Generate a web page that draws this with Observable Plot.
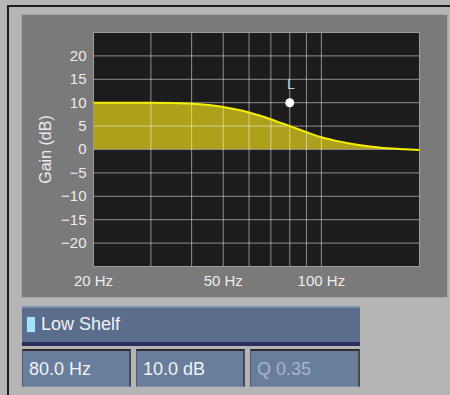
<!DOCTYPE html>
<html>
<head>
<meta charset="utf-8">
<script src="https://cdn.jsdelivr.net/npm/d3@7"></script>
<script src="https://cdn.jsdelivr.net/npm/@observablehq/plot@0.6"></script>
<style>
  html, body { margin: 0; padding: 0; }
  body { width: 450px; height: 395px; background: #b5b5b5; position: relative; overflow: hidden;
         font-family: "Liberation Sans", Arial, sans-serif; }
  .bl { position: absolute; left: 7px; top: 5px; width: 2px; height: 390px; background: #1e1e1e; }
  .bt { position: absolute; left: 7px; top: 5px; width: 443px; height: 2px; background: #1e1e1e; }
  #panel { position: absolute; left: 22px; top: 15px; width: 425px; height: 282px; background: #7a7a7a;
           box-shadow: 0 0 0 1px #a6a6a6; }
  #panel svg { display: block; }
  .bar { position: absolute; left: 22px; top: 306px; width: 338px; height: 34px; background: #5a6d8d;
         border-top: 2px solid #7d91b0; border-bottom: 4px solid #2c2d5e; box-sizing: content-box; }
  .led { position: absolute; left: 4px; top: 8px; width: 8px; height: 15px; background: #a6e2fb;
         border: 1px solid #5a7894; }
  .bar span { position: absolute; left: 19px; top: 6px; font-size: 18px; color: #f2f2f2; line-height: 20px; }
  .box { position: absolute; top: 349px; height: 35px; background: #687e9c;
         border-top: 2px solid #2a2a2a; border-left: 1px solid #4e5a6a; border-right: 2px solid #4a4a4a;
         border-bottom: 1px solid #8090a6; }
  .box span { position: absolute; left: 6px; top: 8px; font-size: 18px; line-height: 20px; color: #f2f2f2; }
  .box span.dim { color: #a9b4c4; }
</style>
</head>
<body>
<div class="bl"></div>
<div class="bt"></div>
<div id="panel"></div>
<div class="bar"><div class="led"></div><span id="bandName"></span></div>
<div class="box" style="left:22px;width:106px"><span id="p0"></span></div>
<div class="box" style="left:136px;width:106px"><span id="p1"></span></div>
<div class="box" style="left:250px;width:107px"><span id="p2" class="dim"></span></div>
<script>
// Frequency response curve (Hz, dB)
const freq = [20, 25, 30, 35, 40, 45, 50, 55, 60, 65, 70, 75, 80, 90, 100, 110, 122, 137, 150, 165, 180, 200];
const gain = [10, 10, 10, 9.95, 9.8, 9.5, 9.1, 8.55, 7.9, 7.2, 6.45, 5.7, 5.0, 3.7, 2.6, 1.9, 1.3, 0.75, 0.45, 0.2, 0.05, -0.1];

// Axis ticks / grid
const yTicks = [-20, -15, -10, -5, 0, 5, 10, 15, 20];
const xGrid = [20, 30, 40, 50, 60, 70, 80, 90, 100];
const xLabels = [20, 50, 100];

// Band handle and settings
const handleFreq = [80];
const handleGain = [10];
const handleLabel = ["L"];
const bandName = "Low Shelf";
const params = ["80.0 Hz", "10.0 dB", "Q 0.35"];

const curve = freq.map((f, i) => ({f, g: gain[i]}));
const handle = handleFreq.map((f, i) => ({f, g: handleGain[i], t: handleLabel[i]}));

const chart = Plot.plot({
  width: 425,
  height: 282,
  marginLeft: 71,
  marginRight: 28,
  marginTop: 17,
  marginBottom: 31,
  x: {type: "log", domain: [20, 200]},
  y: {domain: [-25, 25]},
  style: {background: "transparent", fontFamily: "'Liberation Sans', Arial, sans-serif", fontSize: "15px", color: "#ececec"},
  marks: [
    Plot.frame({fill: "#1c1c1c"}),
    Plot.areaY(curve, {x: "f", y1: 0, y2: "g", fill: "#ada11c", curve: "monotone-x"}),
    Plot.ruleX(xGrid, {stroke: "#ffffff", strokeOpacity: 0.5}),
    Plot.ruleY(yTicks, {stroke: "#ffffff", strokeOpacity: 0.5}),
    Plot.line(curve, {x: "f", y: "g", stroke: "#f4ef00", strokeWidth: 2, curve: "monotone-x"}),
    Plot.frame({stroke: "#9c9c9c"}),
    Plot.axisY({ticks: yTicks, tickSize: 0, tickPadding: 7, label: null, fontSize: 15}),
    Plot.axisX({ticks: xLabels, tickSize: 0, tickPadding: 9, label: null, fontSize: 15, tickFormat: d => `${d} Hz`}),
    Plot.text(["Gain (dB)"], {frameAnchor: "left", rotate: -90, dx: -48, textAnchor: "middle", fontSize: 16, fill: "#ececec"}),
    Plot.dot(handle, {x: "f", y: "g", r: 4.5, fill: "#ffffff", stroke: "none"}),
    Plot.text(handle, {x: "f", y: "g", text: "t", dy: -18, dx: 1, fontSize: 14, fill: "#d0d0d0"})
  ]
});
document.getElementById("panel").appendChild(chart);
document.getElementById("bandName").textContent = bandName;
params.forEach((p, i) => document.getElementById("p" + i).textContent = p);
</script>
</body>
</html>
